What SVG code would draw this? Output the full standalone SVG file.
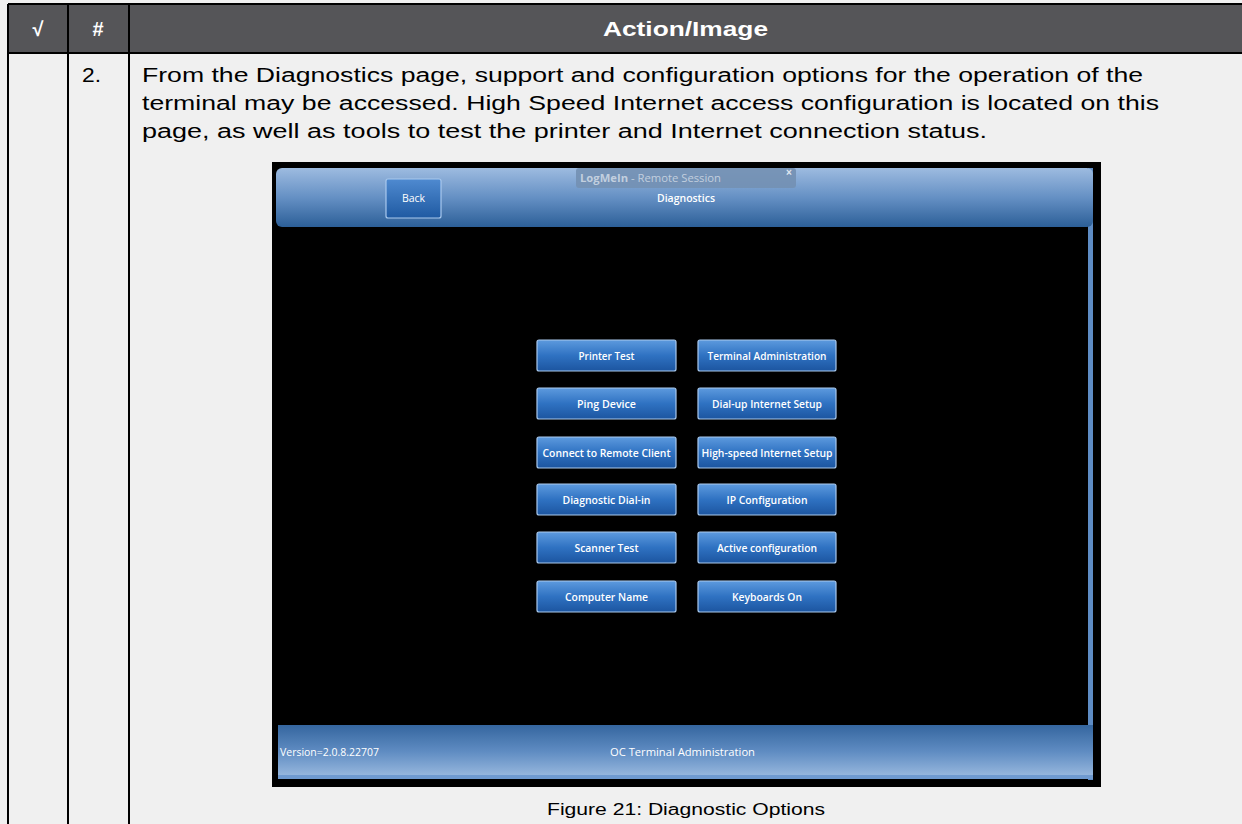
<svg xmlns="http://www.w3.org/2000/svg" width="1242" height="824" viewBox="0 0 1242 824">
<defs>
<linearGradient id="topbar" x1="0" y1="0" x2="0" y2="1">
<stop offset="0" stop-color="#9dbbe0"/><stop offset="0.5" stop-color="#6590c4"/><stop offset="1" stop-color="#2c5f98"/>
</linearGradient>
<linearGradient id="botbar" x1="0" y1="0" x2="0" y2="1">
<stop offset="0" stop-color="#35669f"/><stop offset="0.5" stop-color="#5f8cc2"/><stop offset="1" stop-color="#9cbbe0"/>
</linearGradient>
<linearGradient id="btn" x1="0" y1="0" x2="0" y2="1">
<stop offset="0" stop-color="#5d9ade"/><stop offset="0.5" stop-color="#2f72c2"/><stop offset="1" stop-color="#1c55a0"/>
</linearGradient>
<linearGradient id="back" x1="0" y1="0" x2="0" y2="1">
<stop offset="0" stop-color="#4f8ad0"/><stop offset="1" stop-color="#1f5aa2"/>
</linearGradient>
</defs>
<style>
.tbl{stroke:#000;stroke-width:2;fill:none}
.body{font-family:"Liberation Sans",Arial,sans-serif;font-size:20px;fill:#000}
.hdr{font-family:"Liberation Sans",Arial,sans-serif;font-size:20px;font-weight:bold;fill:#fff}
.b rect{fill:url(#btn);stroke:#a9c9ee;stroke-width:1.2}
.b text{font-family:"Open Sans","Liberation Sans",sans-serif;font-size:11px;font-weight:600;fill:#fff;text-anchor:middle}
.ui{font-family:"Open Sans","Liberation Sans",sans-serif;font-size:10.5px;fill:#fff}
</style>
<rect width="1242" height="824" fill="#f0f0f0"/>
<g id="table">
<rect x="8" y="4" width="1240" height="49" fill="#555558"/>
<line class="tbl" x1="8" y1="4" x2="1242" y2="4"/>
<line class="tbl" x1="8" y1="53" x2="1242" y2="53"/>
<line class="tbl" x1="8" y1="4" x2="8" y2="824"/>
<line class="tbl" x1="68" y1="4" x2="68" y2="824"/>
<line class="tbl" x1="129" y1="4" x2="129" y2="824"/>
<text class="hdr" x="38" y="36" text-anchor="middle" font-weight="normal">√</text>
<text class="hdr" x="98" y="36" text-anchor="middle">#</text>
<text class="hdr" x="603" y="36" textLength="165" lengthAdjust="spacingAndGlyphs">Action/Image</text>
<text class="body" x="82" y="82" textLength="19" lengthAdjust="spacingAndGlyphs">2.</text>
<text class="body" x="142" y="82" textLength="1001" lengthAdjust="spacingAndGlyphs">From the Diagnostics page, support and configuration options for the operation of the</text>
<text class="body" x="142" y="110" textLength="1017" lengthAdjust="spacingAndGlyphs">terminal may be accessed. High Speed Internet access configuration is located on this</text>
<text class="body" x="142" y="138" textLength="845" lengthAdjust="spacingAndGlyphs">page, as well as tools to test the printer and Internet connection status.</text>
</g>
<g id="screenshot">
<rect x="272" y="162" width="829" height="625" fill="#000"/>
<rect x="1088" y="168" width="5" height="612" fill="#5e8cc4"/>
<rect x="276" y="168" width="817" height="59" rx="6" fill="url(#topbar)"/>
<rect x="278" y="725" width="815" height="53" fill="url(#botbar)"/>
<rect x="278" y="775" width="815" height="4" fill="#6f9ad0"/>
<g id="back-btn">
<rect x="386" y="179" width="55" height="39" rx="2" fill="url(#back)" stroke="#a9c9ee" stroke-width="1.2"/>
<text class="ui" x="413.5" y="202" text-anchor="middle">Back</text>
</g>
<g id="logmein-tab">
<rect x="576" y="168" width="220" height="20" rx="3" fill="#7390b2" fill-opacity="0.9"/>
<text x="580" y="182" font-family="Open Sans, Liberation Sans, sans-serif" font-size="11" fill="#c2cfdf" textLength="141" lengthAdjust="spacingAndGlyphs"><tspan font-weight="bold">LogMeIn</tspan> - Remote Session</text>
<text x="789" y="176" font-family="Liberation Sans, sans-serif" font-size="10" font-weight="bold" fill="#e0e8f0" text-anchor="middle">×</text>
</g>
<text class="ui" x="657" y="202" font-weight="600" textLength="58" lengthAdjust="spacingAndGlyphs">Diagnostics</text>
<text class="ui" x="280" y="756" textLength="99" lengthAdjust="spacingAndGlyphs">Version=2.0.8.22707</text>
<text class="ui" x="610" y="756" textLength="145" lengthAdjust="spacingAndGlyphs">OC Terminal Administration</text>
</g>
<g id="btn-printer" class="b"><rect x="537" y="340" width="139" height="31" rx="2"/><text x="606.5" y="360" textLength="56" lengthAdjust="spacingAndGlyphs">Printer Test</text></g>
<g id="btn-terminal" class="b"><rect x="698" y="340" width="138" height="31" rx="2"/><text x="767" y="360" textLength="119" lengthAdjust="spacingAndGlyphs">Terminal Administration</text></g>
<g id="btn-ping" class="b"><rect x="537" y="388" width="139" height="31" rx="2"/><text x="606.5" y="408" textLength="59" lengthAdjust="spacingAndGlyphs">Ping Device</text></g>
<g id="btn-dialup" class="b"><rect x="698" y="388" width="138" height="31" rx="2"/><text x="767" y="408" textLength="110" lengthAdjust="spacingAndGlyphs">Dial-up Internet Setup</text></g>
<g id="btn-connect" class="b"><rect x="537" y="437" width="139" height="31" rx="2"/><text x="606.5" y="457" textLength="128" lengthAdjust="spacingAndGlyphs">Connect to Remote Client</text></g>
<g id="btn-highspeed" class="b"><rect x="698" y="437" width="138" height="31" rx="2"/><text x="767" y="457" textLength="131" lengthAdjust="spacingAndGlyphs">High-speed Internet Setup</text></g>
<g id="btn-diagdial" class="b"><rect x="537" y="484" width="139" height="31" rx="2"/><text x="606.5" y="504" textLength="88" lengthAdjust="spacingAndGlyphs">Diagnostic Dial-in</text></g>
<g id="btn-ip" class="b"><rect x="698" y="484" width="138" height="31" rx="2"/><text x="767" y="504" textLength="81" lengthAdjust="spacingAndGlyphs">IP Configuration</text></g>
<g id="btn-scanner" class="b"><rect x="537" y="532" width="139" height="31" rx="2"/><text x="606.5" y="552" textLength="64" lengthAdjust="spacingAndGlyphs">Scanner Test</text></g>
<g id="btn-active" class="b"><rect x="698" y="532" width="138" height="31" rx="2"/><text x="767" y="552" textLength="100" lengthAdjust="spacingAndGlyphs">Active configuration</text></g>
<g id="btn-computer" class="b"><rect x="537" y="581" width="139" height="31" rx="2"/><text x="606.5" y="601" textLength="83" lengthAdjust="spacingAndGlyphs">Computer Name</text></g>
<g id="btn-keyboards" class="b"><rect x="698" y="581" width="138" height="31" rx="2"/><text x="767" y="601" textLength="70" lengthAdjust="spacingAndGlyphs">Keyboards On</text></g>
<text id="caption" x="547" y="815" font-family="Liberation Sans, Arial, sans-serif" font-size="16" fill="#000" textLength="278" lengthAdjust="spacingAndGlyphs">Figure 21: Diagnostic Options</text>
</svg>
